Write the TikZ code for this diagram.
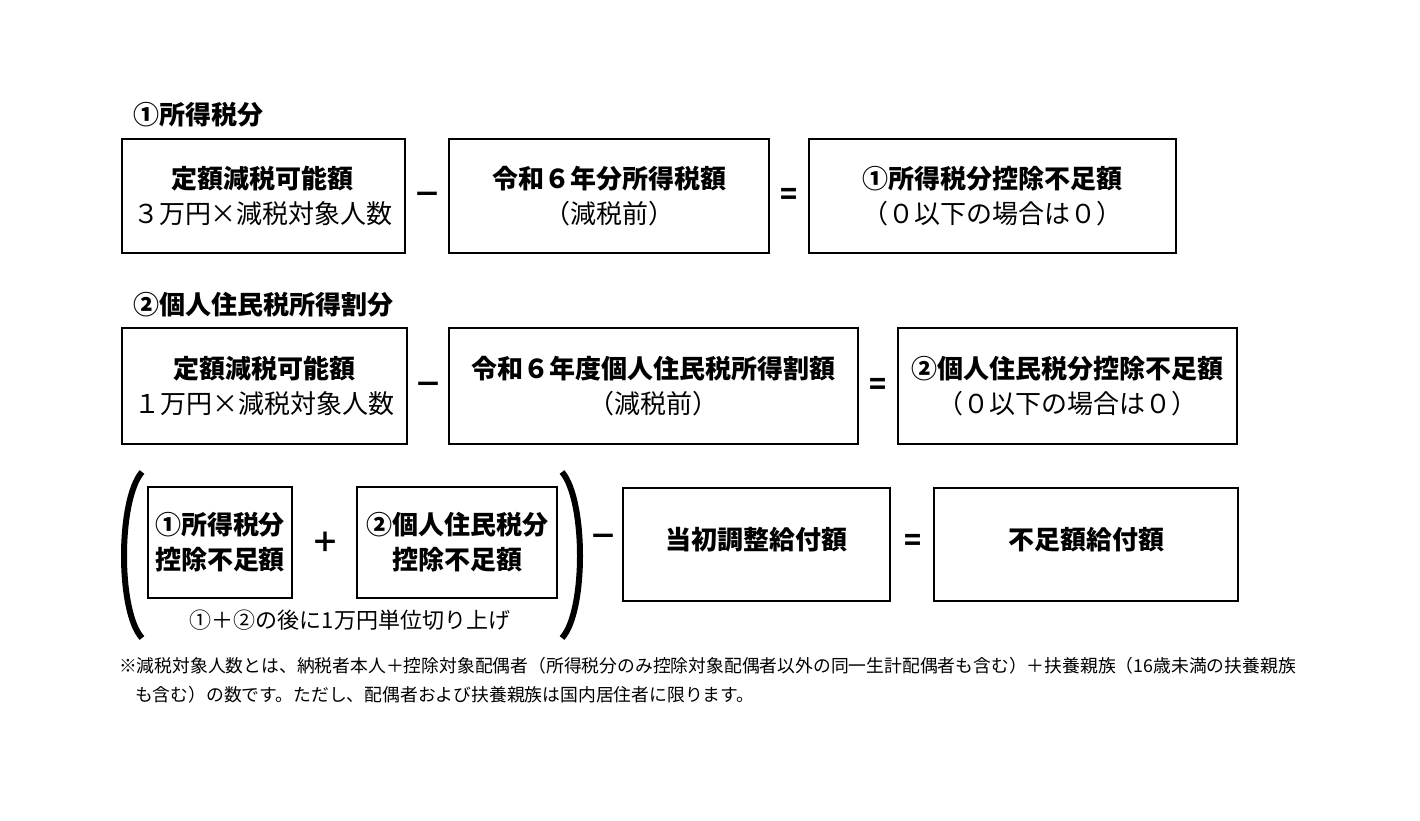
\documentclass[tikz,border=0pt]{standalone}
\usepackage{fontspec}
\setmainfont{Noto Sans CJK JP}
\begin{document}
\begin{tikzpicture}[x=0.5pt,y=-0.5pt,
  bx/.style={draw,line width=1pt,inner sep=0pt},
  op/.style={font=\bfseries\fontsize{14}{16}\selectfont},
  hd/.style={font=\bfseries\fontsize{13}{15}\selectfont,anchor=west},
  tx/.style={align=center,font=\fontsize{13}{17.5}\selectfont}]
\useasboundingbox (0,0) rectangle (1420,820);
\node[hd] (t1) at (126,115) {①所得税分};
\draw[bx] (122,139) rectangle (405,253) coordinate (b1);
\node[tx] (a1) at (263,196) {\textbf{定額減税可能額}\\３万円×減税対象人数};
\node[op] (m1) at (427,198) {－};
\draw[bx] (449,139) rectangle (769,253);
\node[tx] (a2) at (609,196) {\textbf{令和６年分所得税額}\\（減税前）};
\node[op] (e1) at (789,196) {=};
\draw[bx] (809,139) rectangle (1176,253);
\node[tx] (a3) at (992,196) {\textbf{①所得税分控除不足額}\\（０以下の場合は０）};

\node[hd] (t2) at (126,305) {②個人住民税所得割分};
\draw[bx] (122,328) rectangle (407,444);
\node[tx] (c1) at (264,386) {\textbf{定額減税可能額}\\１万円×減税対象人数};
\node[op] (m2) at (428,388) {－};
\draw[bx] (449,328) rectangle (858,444);
\node[tx] (c2) at (653,386) {\textbf{令和６年度個人住民税所得割額}\\（減税前）};
\node[op] (e2) at (878,386) {=};
\draw[bx] (898,328) rectangle (1237,444);
\node[tx] (c3) at (1067,386) {\textbf{②個人住民税分控除不足額}\\（０以下の場合は０）};

\draw[line width=3pt] (142,472) .. controls (118,500) and (118,612) .. (142,638);
\draw[line width=3pt] (562,472) .. controls (586,500) and (586,612) .. (562,638);
\draw[bx] (148,487) rectangle (292,598);
\node[tx] (d1) at (220,542) {\textbf{①所得税分}\\\textbf{控除不足額}};
\node[op] (p1) at (325,542) {＋};
\draw[bx] (357,487) rectangle (557,598);
\node[tx] (d2) at (457,542) {\textbf{②個人住民税分}\\\textbf{控除不足額}};
\node[font=\fontsize{11}{12}\selectfont] (n1) at (350,620) {①＋②の後に1万円単位切り上げ};
\node[op] (m3) at (603,540) {－};
\draw[bx] (623,488) rectangle (890,601);
\node[tx] (d3) at (756,540) {\textbf{当初調整給付額}};
\node[op] (e3) at (913,542) {=};
\draw[bx] (934,488) rectangle (1238,601);
\node[tx] (d4) at (1086,540) {\textbf{不足額給付額}};

\node[anchor=west,font=\fontsize{8.9}{10}\selectfont] (f1) at (112,666) {※減税対象人数とは、納税者本人＋控除対象配偶者（所得税分のみ控除対象配偶者以外の同一生計配偶者も含む）＋扶養親族（16歳未満の扶養親族};
\node[anchor=west,font=\fontsize{8.9}{10}\selectfont] (f2) at (128,695) {も含む）の数です。ただし、配偶者および扶養親族は国内居住者に限ります。};
\end{tikzpicture}
\end{document}
